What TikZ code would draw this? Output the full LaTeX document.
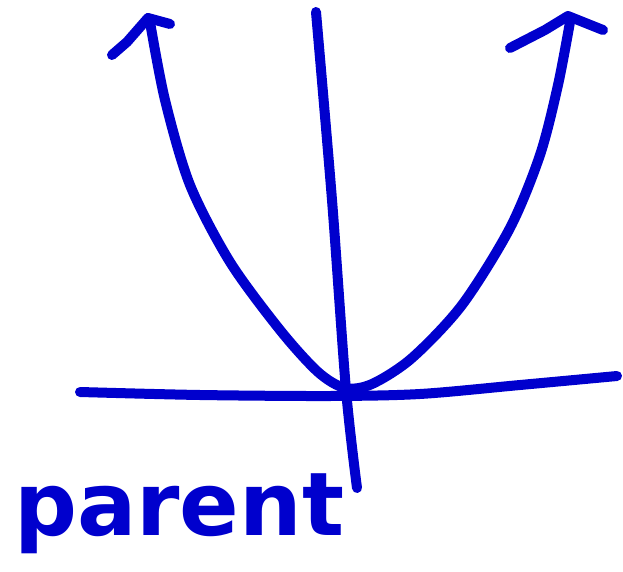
\documentclass[tikz,border=0pt]{standalone}
\usepackage{fontspec}
\setsansfont{DejaVu Sans}
\definecolor{pen}{RGB}{0,0,205}
\begin{document}
\begin{tikzpicture}[x=1pt,y=-1pt,
  ink/.style={draw=pen,line width=10pt,line cap=round,line join=round}]
\useasboundingbox (0,0) rectangle (623,572);
% vertical axis
\draw[ink] plot[smooth] coordinates {(316,12) (332,200) (346,390) (357,488)};
% horizontal axis
\draw[ink] plot[smooth] coordinates {(80,392) (200,395) (330,396) (420,394) (520,385) (617,376)};
% parabola
\draw[ink] plot[smooth] coordinates {(150,22) (165,100) (190,185) (230,262) (280,330) (318,372) (345,388) (372,384) (412,358) (462,305) (510,228) (540,155) (558,85) (570,22)};
% left arrowhead
\draw[ink] (112,55) -- (127,42) -- (148,18) -- (170,24);
% right arrowhead
\draw[ink] (510,48) -- (545,30) -- (568,16) -- (603,30);
% label
\node[text=pen,font=\sffamily\bfseries\fontsize{88}{88}\selectfont,anchor=base west,inner sep=0pt] (lbl) at (14,535) {parent};
\end{tikzpicture}
\end{document}
